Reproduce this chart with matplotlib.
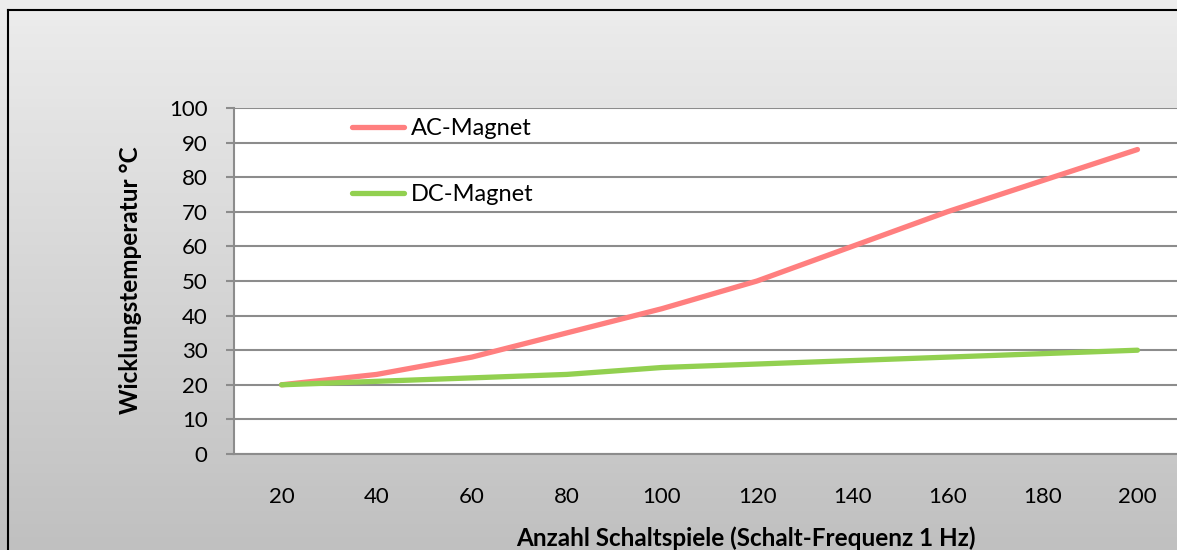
import numpy as np
import matplotlib
matplotlib.use('Agg')
import matplotlib.pyplot as plt
from matplotlib.lines import Line2D

plt.rcParams['font.family'] = ['Lato', 'DejaVu Sans']

# data
schaltspiele = [20, 40, 60, 80, 100, 120, 140, 160, 180, 200]
ac_magnet = [20, 23, 28, 35, 42, 50, 60, 70, 79, 88]
dc_magnet = [20, 21, 22, 23, 25, 26, 27, 28, 29, 30]
y_ticks = [0, 10, 20, 30, 40, 50, 60, 70, 80, 90, 100]

W, H = 1177, 550
# tiny epsilon so the pixel size doesn't get truncated to 1176
fig = plt.figure(figsize=(W / 100 + 1e-4, H / 100 + 1e-4), dpi=100)

# gradient background behind everything, as a mesh (no image resampling at the edges)
bg = fig.add_axes([0, 0, 1, 1], zorder=-10)
ys = np.linspace(0, 1, 129)
shade = np.linspace(0.75, 0.925, 128).reshape(-1, 1)
bg.pcolormesh([0, 1], ys, shade, cmap='gray', vmin=0, vmax=1, shading='flat',
              edgecolors='none', antialiased=False)
bg.set_xlim(0, 1)
bg.set_ylim(0, 1)
bg.set_axis_off()
# chart frame: only top and left edges are inside the picture
fig.add_artist(Line2D([8 / W, 1.05], [1 - 10 / H] * 2, color='black', lw=1.5))
fig.add_artist(Line2D([8 / W] * 2, [-0.05, 1 - 10 / H], color='black', lw=1.5))

left, right, top, bottom = 234, 1185, 108, 454
ax = fig.add_axes([left / W, 1 - bottom / H, (right - left) / W, (bottom - top) / H])
ax.set_facecolor('white')

x = np.arange(len(schaltspiele))
ax.plot(x, ac_magnet, color='#ff7f7f', lw=3.8, solid_capstyle='round', label='AC-Magnet', zorder=3)
ax.plot(x, dc_magnet, color='#92d050', lw=3.8, solid_capstyle='round', label='DC-Magnet', zorder=3)

ax.set_xlim(-0.5, len(schaltspiele) - 0.5)
ax.set_ylim(0, 100)
ax.set_yticks(y_ticks)
ax.set_xticks(x)
ax.set_xticklabels([str(v) for v in schaltspiele])
ax.yaxis.grid(True, color='#8c8c8c', lw=1.5)
ax.set_axisbelow(True)
for s in ['top', 'right']:
    ax.spines[s].set_visible(False)
ax.spines['left'].set_color('#8c8c8c')
ax.spines['left'].set_linewidth(1.5)
ax.spines['bottom'].set_color('#8c8c8c')
ax.spines['bottom'].set_linewidth(1.5)
ax.tick_params(axis='y', length=6, width=1.5, color='#8c8c8c', pad=13, labelsize=16)
ax.tick_params(axis='x', length=0, pad=24, labelsize=16)

fig.text((515 + 977) / 2 / W, 1 - 538 / H, 'Anzahl Schaltspiele (Schalt-Frequenz 1 Hz)',
         ha='center', va='center', fontsize=17.5, fontweight='bold')
fig.text(130 / W, 1 - 280 / H, 'Wicklungstemperatur °C', rotation=90,
         ha='center', va='center', fontsize=17.5, fontweight='bold')

ax.legend(loc='upper left', bbox_to_anchor=(352 / W, 1 - 118 / H), bbox_transform=fig.transFigure,
          frameon=False, fontsize=17, handlelength=2.2, handletextpad=0.3,
          labelspacing=1.9, borderpad=0, borderaxespad=0)

fig.savefig('out.png', dpi=100)
